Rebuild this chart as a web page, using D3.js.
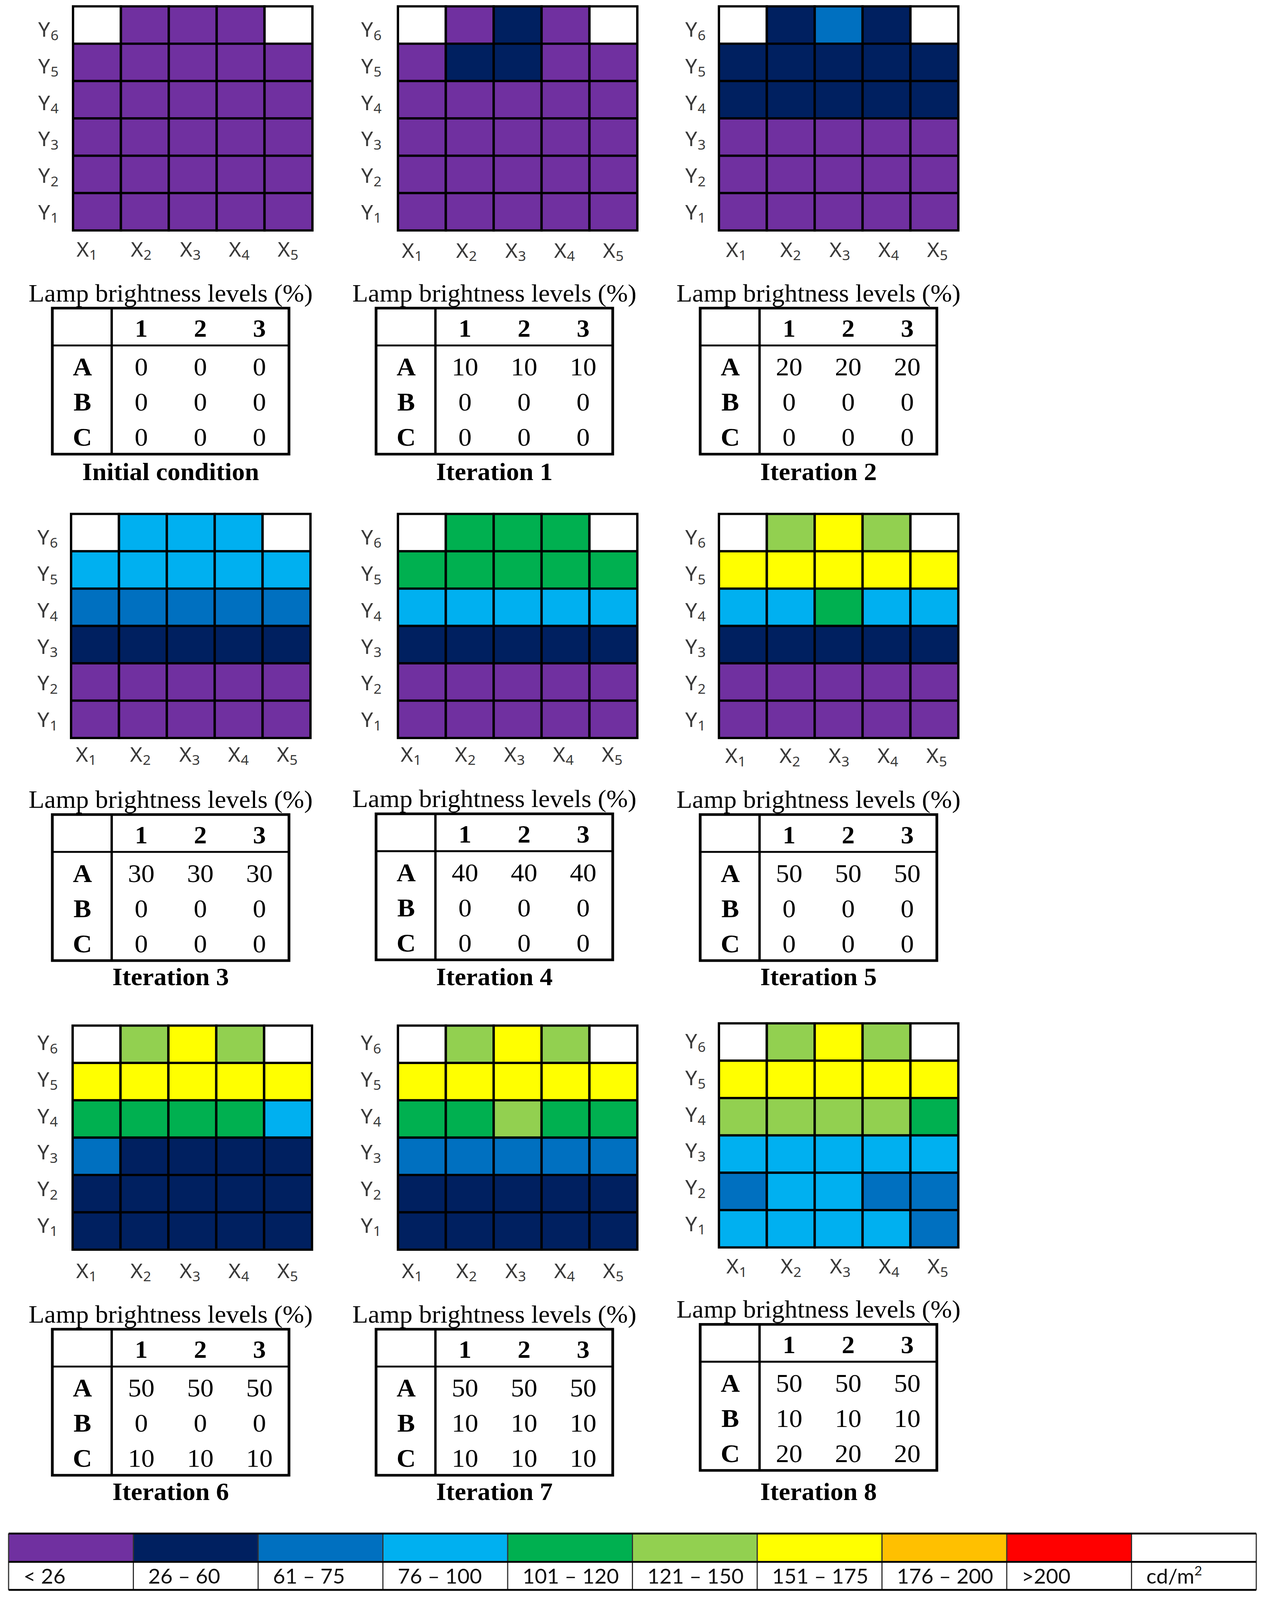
<!DOCTYPE html>
<html>
<head>
<meta charset="utf-8">
<script src="https://cdn.jsdelivr.net/npm/d3@7"></script>
<style>
  html, body { margin: 0; height: 100%; background: #fff; overflow: hidden; }
  svg { display: block; width: 100vw; height: 100vh; }
  .tick-label { font-family: "Noto Sans", sans-serif; fill: #3a3a3a; }
  .serif { font-family: "Liberation Serif", serif; fill: #000; }
  .legend-label { font-family: Lato, sans-serif; fill: #111; }
</style>
</head>
<body>
<!-- the window can come out shorter than 4284, so the drawing is fitted to whatever it gets -->
<svg id="chart" viewBox="0 0 3247 4284" preserveAspectRatio="none"></svg>
<script>
// Axis subscripts
const xLabels = ['1', '2', '3', '4', '5'];
const yLabels = ['6', '5', '4', '3', '2', '1'];
const lampRows = ['A', 'B', 'C'];
const lampCols = ['1', '2', '3'];

// Luminance classes, cd/m2
const legendLabels = ['< 26', '26 – 60', '61 – 75', '76 – 100', '101 – 120', '121 – 150', '151 – 175', '176 – 200', '>200', 'cd/m'];
const legendColors = ['#7030a0', '#002060', '#0070c0', '#00b0f0', '#00b050', '#92d050', '#ffff00', '#ffc000', '#ff0000', '#ffffff'];

const captions = ['Initial condition', 'Iteration 1', 'Iteration 2', 'Iteration 3', 'Iteration 4', 'Iteration 5', 'Iteration 6', 'Iteration 7', 'Iteration 8'];

// Class index per cell, Y6 row first. 9 is the white (outside the room) cell.
const gridInitial = [[9,0,0,0,9],[0,0,0,0,0],[0,0,0,0,0],[0,0,0,0,0],[0,0,0,0,0],[0,0,0,0,0]];
const gridIter1 = [[9,0,1,0,9],[0,1,1,0,0],[0,0,0,0,0],[0,0,0,0,0],[0,0,0,0,0],[0,0,0,0,0]];
const gridIter2 = [[9,1,2,1,9],[1,1,1,1,1],[1,1,1,1,1],[0,0,0,0,0],[0,0,0,0,0],[0,0,0,0,0]];
const gridIter3 = [[9,3,3,3,9],[3,3,3,3,3],[2,2,2,2,2],[1,1,1,1,1],[0,0,0,0,0],[0,0,0,0,0]];
const gridIter4 = [[9,4,4,4,9],[4,4,4,4,4],[3,3,3,3,3],[1,1,1,1,1],[0,0,0,0,0],[0,0,0,0,0]];
const gridIter5 = [[9,5,6,5,9],[6,6,6,6,6],[3,3,4,3,3],[1,1,1,1,1],[0,0,0,0,0],[0,0,0,0,0]];
const gridIter6 = [[9,5,6,5,9],[6,6,6,6,6],[4,4,4,4,3],[2,1,1,1,1],[1,1,1,1,1],[1,1,1,1,1]];
const gridIter7 = [[9,5,6,5,9],[6,6,6,6,6],[4,4,5,4,4],[2,2,2,2,2],[1,1,1,1,1],[1,1,1,1,1]];
const gridIter8 = [[9,5,6,5,9],[6,6,6,6,6],[5,5,5,5,4],[3,3,3,3,3],[2,3,3,2,2],[3,3,3,3,2]];
const grids = [gridInitial, gridIter1, gridIter2, gridIter3, gridIter4, gridIter5, gridIter6, gridIter7, gridIter8];

// Lamp brightness (%) for groups A, B, C; the same across lamps 1-3
const lampA = [0, 10, 20, 30, 40, 50, 50, 50, 50];
const lampB = [0, 0, 0, 0, 0, 0, 0, 10, 10];
const lampC = [0, 0, 0, 0, 0, 0, 10, 10, 20];

// Panel placement, the figure's panels are pasted in by hand so they all differ a bit
const heatX = [187, 1019, 1841, 182, 1019, 1841, 186, 1019, 1841];
const heatY = [17, 17, 17, 1376, 1376, 1376, 2746, 2746, 2740];
const tableX = [134, 963, 1793, 134, 963, 1793, 134, 963, 1793];
const tableY = [825, 825, 825, 2181, 2179, 2181, 3559, 3559, 3546];
const captionY = [1285, 1285, 1285, 2638, 2638, 2638, 4016, 4016, 4016];
const xTickStart = [35, 36, 44, 38, 33, 42, 35, 36, 45];
const xTickDrop = [70, 73, 71, 63, 63, 67, 76, 76, 70];
const yTickRight = [-37, -42, -34, -34, -42, -34, -38, -43, -34];
const yTickBase = [81, 81, 81, 81, 81, 81, 65, 65, 67];

const HEAT_W = 613, HEAT_H = 600;
const TABLE_W = 606, TABLE_H = 391;
const DIVIDER = 152, HEADER_H = 100;

const svg = d3.select('#chart');
const color = d3.scaleOrdinal(d3.range(legendColors.length), legendColors);

function subLabel(sel, letter, size, subSize) {
  sel.text(null);
  sel.append('tspan').text(letter).attr('font-size', size);
  sel.append('tspan').text((d) => d).attr('font-size', subSize).attr('dy', 9).attr('dx', 1);
}

function drawHeat(g, grid, i) {
  const x = d3.scaleBand(xLabels, [0, HEAT_W]);
  const y = d3.scaleBand(yLabels, [0, HEAT_H]);

  yLabels.forEach((yl, r) => {
    g.selectAll(null)
      .data(grid[r])
      .join('rect')
      .attr('x', (d, c) => x(xLabels[c]))
      .attr('y', y(yl))
      .attr('width', x.bandwidth())
      .attr('height', y.bandwidth())
      .attr('fill', (d) => color(d))
      .attr('stroke', '#000')
      .attr('stroke-width', 6);
  });

  // tick labels do not sit on the cell centres in the figure
  const xTicks = d3.scaleOrdinal(xLabels, [0, 139, 265, 390, 515].map((v) => v + xTickStart[i]));
  const yTicks = d3.scaleOrdinal(yLabels, [0, 98, 196, 293, 391, 489].map((v) => v + yTickBase[i]));

  const xAxis = g.append('g').attr('transform', `translate(0,${HEAT_H + xTickDrop[i]})`)
    .call(d3.axisBottom(xTicks).tickSize(0));
  xAxis.select('.domain').remove();
  xAxis.selectAll('text')
    .attr('class', 'tick-label').attr('y', 0).attr('dy', 0).attr('text-anchor', 'middle')
    .call(subLabel, 'X', 54, 36);

  const yAxis = g.append('g').attr('transform', `translate(${yTickRight[i]},0)`)
    .call(d3.axisLeft(yTicks).tickSize(0));
  yAxis.select('.domain').remove();
  yAxis.selectAll('text')
    .attr('class', 'tick-label').attr('x', 0).attr('dy', 0).attr('text-anchor', 'end')
    .call(subLabel, 'Y', 54, 36);
}

function drawTable(g, rowValues, caption, capY) {
  const col = d3.scaleBand(lampCols, [DIVIDER, TABLE_W]);
  const row = d3.scaleBand(lampRows, [HEADER_H + 10, TABLE_H + 2]);

  g.append('text').attr('class', 'serif')
    .attr('x', TABLE_W / 2).attr('y', -18)
    .attr('text-anchor', 'middle').attr('font-size', 66)
    .text('Lamp brightness levels (%)');

  g.append('rect')
    .attr('width', TABLE_W).attr('height', TABLE_H)
    .attr('fill', '#fff').attr('stroke', '#000').attr('stroke-width', 7);
  g.append('line').attr('x1', 0).attr('x2', TABLE_W).attr('y1', HEADER_H).attr('y2', HEADER_H)
    .attr('stroke', '#000').attr('stroke-width', 5);
  g.append('line').attr('x1', DIVIDER).attr('x2', DIVIDER).attr('y1', 0).attr('y2', TABLE_H)
    .attr('stroke', '#000').attr('stroke-width', 6);

  g.selectAll('.col-head')
    .data(lampCols)
    .join('text')
    .attr('class', 'serif col-head')
    .attr('x', (d) => col(d) + col.bandwidth() / 2)
    .attr('y', 77)
    .attr('text-anchor', 'middle').attr('font-size', 66).attr('font-weight', 700)
    .text((d) => d);

  g.selectAll('.row-head')
    .data(lampRows)
    .join('text')
    .attr('class', 'serif row-head')
    .attr('x', 77)
    .attr('y', (d) => row(d) + row.bandwidth() / 2 + 23)
    .attr('text-anchor', 'middle').attr('font-size', 68).attr('font-weight', 700)
    .text((d) => d);

  lampRows.forEach((rk, r) => {
    g.selectAll(null)
      .data(lampCols)
      .join('text')
      .attr('class', 'serif')
      .attr('x', (d) => col(d) + col.bandwidth() / 2)
      .attr('y', row(rk) + row.bandwidth() / 2 + 23)
      .attr('text-anchor', 'middle').attr('font-size', 68)
      .text(rowValues[r]);
  });

  g.append('text').attr('class', 'serif')
    .attr('x', TABLE_W / 2).attr('y', capY)
    .attr('text-anchor', 'middle').attr('font-size', 66).attr('font-weight', 700)
    .text(caption);
}

grids.forEach((grid, i) => {
  drawHeat(svg.append('g').attr('transform', `translate(${heatX[i]},${heatY[i]})`), grid, i);
  drawTable(svg.append('g').attr('transform', `translate(${tableX[i]},${tableY[i]})`),
    [lampA[i], lampB[i], lampC[i]], captions[i], captionY[i] - tableY[i]);
});

// Legend strip along the bottom
const legendX = d3.scaleBand(legendLabels, [22, 3217]);
const LEGEND_TOP = 4106, LEGEND_MID = 4182, LEGEND_BOTTOM = 4257;
const legend = svg.append('g');

legend.selectAll('.swatch')
  .data(legendLabels)
  .join('rect')
  .attr('class', 'swatch')
  .attr('x', (d) => legendX(d))
  .attr('y', LEGEND_TOP)
  .attr('width', legendX.bandwidth())
  .attr('height', LEGEND_MID - LEGEND_TOP)
  .attr('fill', (d, i) => legendColors[i]);

legend.selectAll('.divider')
  .data(legendLabels.concat('end'))
  .join('line')
  .attr('class', 'divider')
  .attr('x1', (d, i) => 22 + i * legendX.bandwidth())
  .attr('x2', (d, i) => 22 + i * legendX.bandwidth())
  .attr('y1', LEGEND_TOP).attr('y2', LEGEND_BOTTOM)
  .attr('stroke', '#333').attr('stroke-width', 3);

[LEGEND_TOP, LEGEND_MID, LEGEND_BOTTOM].forEach((y) => {
  legend.append('line')
    .attr('x1', 22).attr('x2', 3217).attr('y1', y).attr('y2', y)
    .attr('stroke', '#000').attr('stroke-width', 5);
});

const legendText = legend.selectAll('.legend-label')
  .data(legendLabels)
  .join('text')
  .attr('class', 'legend-label')
  .attr('x', (d) => legendX(d) + 38)
  .attr('y', 4240)
  .attr('font-size', 54)
  .text((d) => d);
legendText.filter((d) => d === 'cd/m')
  .append('tspan').attr('dy', -22).attr('font-size', 34).text('2');
</script>
</body>
</html>
